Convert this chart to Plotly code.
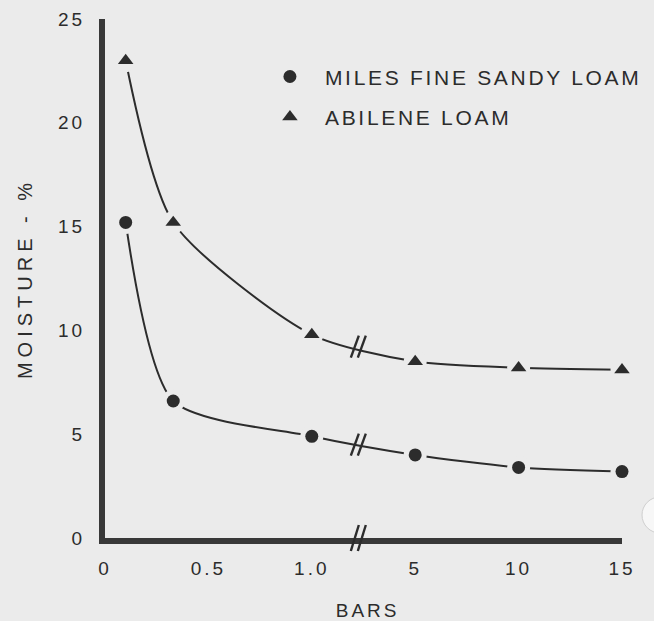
import plotly.graph_objects as go

# Soil moisture retention: matric tension (bars) vs moisture content (%)
tension_bars = [0.1, 0.33, 1.0, 5, 10, 15]
miles_fine_sandy_loam = [15.2, 6.6, 4.9, 4.0, 3.4, 3.2]
abilene_loam = [23.0, 15.2, 9.8, 8.5, 8.2, 8.1]

x_tick_bars = [0, 0.5, 1.0, 5, 10, 15]
x_tick_labels = ["0", "0.5", "1.0", "5", "10", "15"]
y_ticks = [0, 5, 10, 15, 20, 25]

INK = "#2c2c2c"
PAPER = "#ebebeb"
FONT = "Liberation Sans, Arial, sans-serif"
BREAK_POS = 2.45


def axis_pos(b):
    """Broken scale: 0-1 bar is stretched, 5-15 bars is compressed."""
    return 2 * b if b <= 1.0 else 3 + (b - 5) / 5


def spaced(text, px=3.0):
    return f'<span style="letter-spacing:{px}px">{text}</span>'


xs = [axis_pos(b) for b in tension_bars]

fig = go.Figure()

series = [
    ("MILES FINE SANDY LOAM", miles_fine_sandy_loam, "circle", 13),
    ("ABILENE LOAM", abilene_loam, "triangle-up", 13.5),
]

# smooth curves; paper-coloured discs at the points leave a gap round each marker
for name, ys, sym, size in series:
    fig.add_trace(go.Scatter(
        x=xs, y=ys, mode="lines+markers",
        line=dict(color=INK, width=2, shape="spline", smoothing=0.7),
        marker=dict(symbol="circle", size=23, color=PAPER),
        showlegend=False, hoverinfo="skip", cliponaxis=False,
    ))

# the markers themselves (also the legend entries)
for i, (name, ys, sym, size) in enumerate(series):
    fig.add_trace(go.Scatter(
        x=xs, y=ys, mode="markers", name=spaced(name, 2.7),
        marker=dict(symbol=sym, size=size, color=INK),
        legendgroup=f"g{i}", cliponaxis=False,
    ))

shapes = []


def break_mark(yval, yref, half_h=12):
    for dx in (-3.5, 3.5):
        shapes.append(dict(
            type="line", xref="x", yref=yref,
            xsizemode="pixel", ysizemode="pixel",
            xanchor=BREAK_POS, yanchor=yval,
            x0=dx - 4, x1=dx + 4, y0=-half_h, y1=half_h,
            line=dict(color=INK, width=2.4),
        ))


# break marks on both curves and on the x axis
for _, ys, _, _ in series:
    y_at_break = ys[2] + (ys[3] - ys[2]) * (BREAK_POS - xs[2]) / (xs[3] - xs[2])
    break_mark(y_at_break, "y", 11)
break_mark(0, "paper", 13)

# light worn spot at the page edge
shapes.append(dict(
    type="circle", xref="paper", yref="paper",
    xsizemode="pixel", ysizemode="pixel", xanchor=1, yanchor=0,
    x0=20, x1=56, y0=5, y1=41,
    fillcolor="#f7f7f7", line=dict(color="#cfcfcf", width=1),
))

fig.update_layout(
    width=654, height=621,
    margin=dict(l=105, r=32, t=19, b=83, autoexpand=False),
    paper_bgcolor=PAPER, plot_bgcolor=PAPER,
    font=dict(family=FONT, color=INK, size=19),
    shapes=shapes,
    legend=dict(
        x=0.29, y=0.928, xanchor="left", yanchor="top",
        bgcolor="rgba(0,0,0,0)", font=dict(size=21, color=INK),
        tracegroupgap=10, traceorder="grouped", itemwidth=60,
    ),
    xaxis=dict(
        range=[0, 5], showline=True, linewidth=6, linecolor="#383838",
        showgrid=False, zeroline=False, ticks="", automargin=False,
        tickvals=[axis_pos(b) for b in x_tick_bars],
        ticktext=[spaced(t, 3) for t in x_tick_labels],
        tickfont=dict(size=19, color=INK), ticklabelstandoff=8,
        title=dict(text=spaced("\u00a0BARS", 3), font=dict(size=19, color=INK), standoff=31),
    ),
    yaxis=dict(
        range=[0, 25], showline=True, linewidth=6, linecolor="#383838",
        showgrid=False, zeroline=False, ticks="", automargin=False,
        tickvals=y_ticks, ticktext=[spaced(str(v), 3) for v in y_ticks],
        tickfont=dict(size=19, color=INK), ticklabelstandoff=10,
        title=dict(text=spaced("MOISTURE - %", 5), font=dict(size=20, color=INK), standoff=22),
    ),
)

fig.write_html("out.html")
